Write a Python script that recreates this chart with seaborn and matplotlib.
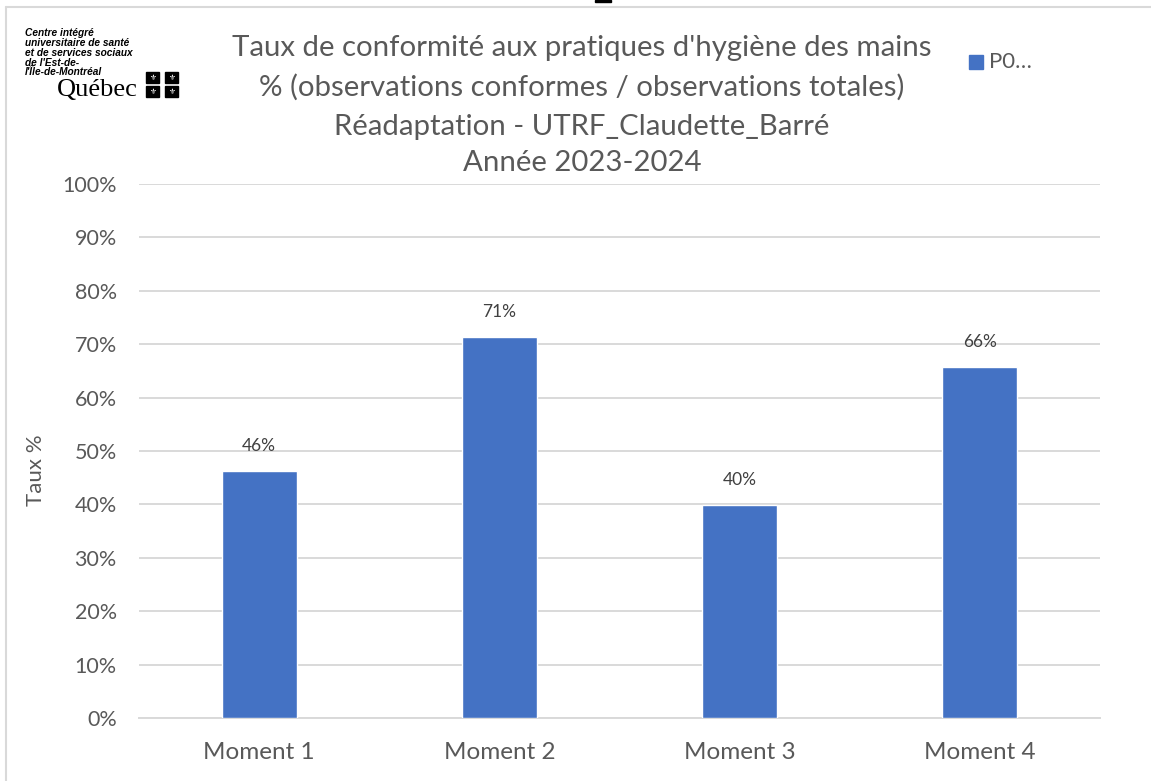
import pandas as pd
import numpy as np
import matplotlib
matplotlib.use('Agg')
import matplotlib.pyplot as plt
import seaborn as sns
from matplotlib.patches import Rectangle
from matplotlib.lines import Line2D

categories = ['Moment 1', 'Moment 2', 'Moment 3', 'Moment 4']
taux = [0.4625, 0.7135, 0.399, 0.657]
labels = ['46%', '71%', '40%', '66%']
series_name = 'P0…'
title_lines = [
    "Taux de conformité aux pratiques d'hygiène des mains",
    "% (observations conformes / observations totales)",
    "Réadaptation - UTRF_Claudette_Barré",
    "Année 2023-2024",
]
title_y = [48, 87, 127, 163]

sns.set_theme(style='white')
plt.rcParams['font.family'] = ['Lato', 'DejaVu Sans']

W, H = 1151, 781
fig = plt.figure(figsize=(W / 100, H / 100), dpi=100)
ax = fig.add_axes([139 / W, (H - 718) / H, 961 / W, (718 - 184) / H])

df = pd.DataFrame({'Moment': categories, 'Taux': taux})
sns.barplot(data=df, x='Moment', y='Taux', color='#4472C4', width=0.3125,
            saturation=1, ax=ax, zorder=3)

ax.set_ylim(0, 1)
ax.set_xlim(-0.5, 3.5)
yt = np.arange(0, 1.01, 0.1)
ax.set_yticks(yt)
ax.set_yticklabels([f'{int(round(v * 100))}%' for v in yt], color='#595959', fontsize=15.5)
ax.tick_params(axis='x', colors='#595959', labelsize=17.5, length=0, pad=17)
ax.tick_params(axis='y', length=0, pad=16)
ax.yaxis.grid(True, color='#d9d9d9', linewidth=1.4, zorder=0)
for s in ['top', 'right', 'left']:
    ax.spines[s].set_visible(False)
ax.spines['bottom'].set_color('#d9d9d9')
ax.spines['bottom'].set_linewidth(1.4)
ax.set_xlabel('')
ax.set_ylabel('Taux %', color='#595959', fontsize=16)
ax.yaxis.set_label_coords((46 - 139) / 961, (718 - 470) / 534)

for i, (v, lab) in enumerate(zip(taux, labels)):
    ax.annotate(lab, (i, v), xytext=(0, 12), textcoords='offset points',
                ha='center', va='bottom', fontsize=12.5, color='#404040')

# titre
for line, y in zip(title_lines, title_y):
    fig.text(582 / W, 1 - y / H, line, ha='center', va='center',
             fontsize=21.2, color='#595959')

# légende
fig.patches.append(Rectangle((969 / W, 1 - 69 / H), 14 / W, 14 / H,
                             transform=fig.transFigure, color='#4472C4'))
fig.text(989 / W, 1 - 62 / H, series_name, ha='left', va='center',
         fontsize=16, color='#595959')

# cadre
fig.lines.append(Line2D([6 / W, 6 / W], [0, 1 - 7 / H], transform=fig.transFigure,
                        color='#d9d9d9', linewidth=1.5))
fig.lines.append(Line2D([6 / W, 1], [1 - 7 / H, 1 - 7 / H], transform=fig.transFigure,
                        color='#d9d9d9', linewidth=1.5))
fig.patches.append(Rectangle((595 / W, 1 - 2 / H), 16 / W, 2 / H,
                             transform=fig.transFigure, color='black'))

# logo
fig.text(25 / W, 1 - 28 / H,
         "Centre intégré\nuniversitaire de santé\net de services sociaux\nde l'Est-de-\nl'Île-de-Montréal",
         ha='left', va='top', fontsize=7.3, fontweight='bold', fontstyle='italic',
         color='black', linespacing=0.98, family=['Liberation Sans', 'DejaVu Sans'])
fig.text(57 / W, 1 - 90 / H, 'Québec', ha='left', va='center', fontsize=19,
         color='black', family=['Liberation Serif', 'DejaVu Serif'])
for (x, y) in [(146, 72), (165, 72), (146, 86), (165, 86)]:
    fig.patches.append(Rectangle((x / W, 1 - (y + 11) / H), 13 / W, 11 / H,
                                 transform=fig.transFigure, color='black'))
    fig.text((x + 6.5) / W, 1 - (y + 5.5) / H, '⚜', ha='center', va='center',
             fontsize=5.5, color='white', family=['DejaVu Sans'])

fig.savefig('out.png', dpi=100)
